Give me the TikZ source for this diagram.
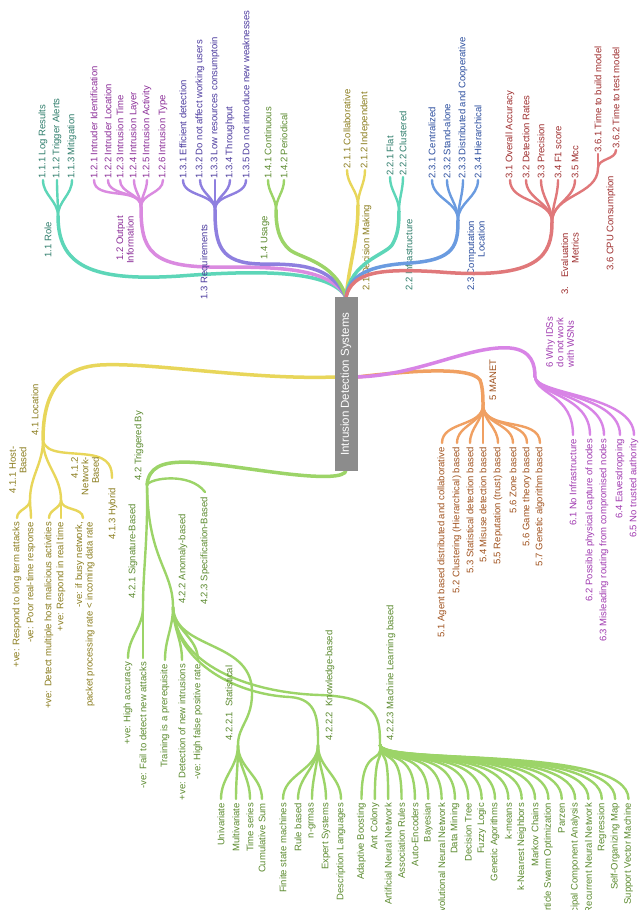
\documentclass[tikz,border=0pt]{standalone}
\usepackage{fontspec}
\setmainfont{Liberation Sans}
\usetikzlibrary{calc}
\begin{document}
\begin{tikzpicture}[x=1pt,y=-1pt,line cap=round,
  tl/.style={rotate=90,anchor=west,inner sep=1pt,font=\fontsize{9.5}{10.5}\selectfont},
  bl/.style={rotate=90,anchor=east,inner sep=1pt,font=\fontsize{9.5}{10.5}\selectfont},
  lab/.style={rotate=90,inner sep=1pt,font=\fontsize{9.5}{10.5}\selectfont},
  trunk/.style={line width=3.5pt},
  leaf/.style={line width=2.4pt}]
\definecolor{cteal}{HTML}{5DD6B8}\definecolor{tteal}{HTML}{2E7D6B}
\definecolor{cpink}{HTML}{DA8AE0}\definecolor{tpink}{HTML}{8B2D98}
\definecolor{cpurp}{HTML}{8E7FDF}\definecolor{tpurp}{HTML}{4B3A9E}
\definecolor{cgreen}{HTML}{9CD468}\definecolor{tgreen}{HTML}{5B8A2E}
\definecolor{cyell}{HTML}{E8D65A}\definecolor{tyell}{HTML}{8B7D1E}
\definecolor{cblue}{HTML}{6A9BE0}\definecolor{tblue}{HTML}{2A4D9E}
\definecolor{cred}{HTML}{E0787A}\definecolor{tred}{HTML}{9E2E2E}
\definecolor{corange}{HTML}{F0A062}\definecolor{torange}{HTML}{A0521E}
\definecolor{cviol}{HTML}{D884E6}\definecolor{tviol}{HTML}{A03AB0}
\useasboundingbox (0,0) rectangle (640,910);
\fill[white] (0,0) rectangle (640,910);
% root coordinates
\coordinate (rt) at (346,297);
\coordinate (rb) at (346,470);
\coordinate (rl) at (335,377);
\coordinate (rr) at (357,377);
% ---------- 1.1 Role
\coordinate (s11) at (58,216);
\draw[trunk,cteal] (rt) .. controls (330,270) and (260,270) .. (180,276) .. controls (90,282) and (58,265) .. (s11);
\foreach \x/\t [count=\i] in {43/1.1.1 Log Results,57/1.1.2 Trigger Alerts,72/1.1.3 Mitigation}{
  \coordinate (e11\i) at (\x,180);
  \draw[leaf,cteal] (s11) to[out=90,in=-90] (e11\i);
  \node[tl,tteal] (t11\i) at (e11\i) {\t};}
\node[lab,tteal] (l11) at (48,240) {1.1 Role};
% ---------- 1.2
\coordinate (s12) at (141,207);
\draw[trunk,cpink] (rt) .. controls (330,268) and (280,267) .. (220,267) .. controls (150,268) and (141,250) .. (s12);
\foreach \x/\t [count=\i] in {94/1.2.1 Intruder Identification,108/1.2.2 Intruder Location,120/1.2.3 Intrusion Time,134/1.2.4 Intrusion Layer,147/1.2.5 Intrusion Activity,163/1.2.6 Intrusion Type}{
  \coordinate (e12\i) at (\x,180);
  \draw[leaf,cpink] (s12) to[out=90,in=-90] (e12\i);
  \node[tl,tpink] (t12\i) at (e12\i) {\t};}
\node[lab,tpink,align=right] (l12) at (125,240) {1.2 Output\\Information};
% ---------- 1.3
\coordinate (s13) at (215,210);
\draw[trunk,cpurp] (rt) .. controls (330,265) and (300,264) .. (260,264) .. controls (220,263) and (215,245) .. (s13);
\foreach \x/\t [count=\i] in {183/1.3.1 Efficient detection,200/1.3.2 Do not affect working users,215/1.3.3 Low resources consumptoin,230/1.3.4 Throughput,246/1.3.5 Do not introduce new weaknesses}{
  \coordinate (e13\i) at (\x,180);
  \draw[leaf,cpurp] (s13) to[out=90,in=-90] (e13\i);
  \node[tl,tpurp] (t13\i) at (e13\i) {\t};}
\node[lab,tpurp] (l13) at (205,262) {1.3 Requirements};
% ---------- 1.4
\coordinate (s14) at (276,210);
\draw[trunk,cgreen] (rt) .. controls (335,262) and (300,258) .. (290,250) .. controls (278,240) and (276,225) .. (s14);
\foreach \x/\t [count=\i] in {268/1.4.1 Continuous,284/1.4.2 Periodical}{
  \coordinate (e14\i) at (\x,180);
  \draw[leaf,cgreen] (s14) to[out=90,in=-90] (e14\i);
  \node[tl,tgreen] (t14\i) at (e14\i) {\t};}
\node[lab,tgreen] (l14) at (265,238) {1.4 Usage};
% ---------- 2.1
\coordinate (s21) at (358,205);
\draw[trunk,cyell] (rt) .. controls (350,260) and (358,240) .. (s21);
\foreach \x/\t [count=\i] in {347/2.1.1 Collaborative,365/2.1.2 Independent}{
  \coordinate (e21\i) at (\x,170);
  \draw[leaf,cyell] (s21) to[out=90,in=-90] (e21\i);
  \node[tl,tyell] (t21\i) at (e21\i) {\t};}
\node[tl,tyell] (l21) at (367,292) {2.1 Decision Making};
% ---------- 2.2
\coordinate (s22) at (399,211);
\draw[trunk,cteal] (rt) .. controls (350,262) and (385,255) .. (392,245) .. controls (398,235) and (399,225) .. (s22);
\foreach \x/\t [count=\i] in {390/2.2.1 Flat,403/2.2.2 Clustered}{
  \coordinate (e22\i) at (\x,177);
  \draw[leaf,cteal] (s22) to[out=90,in=-90] (e22\i);
  \node[tl,tteal] (t22\i) at (e22\i) {\t};}
\node[tl,tteal] (l22) at (409,292) {2.2 Infrastructure};
% ---------- 2.3
\coordinate (s23) at (458,220);
\draw[trunk,cblue] (rt) .. controls (350,270) and (380,265) .. (410,263) .. controls (455,260) and (458,245) .. (s23);
\foreach \x/\t [count=\i] in {432/2.3.1 Centralized,447/2.3.2 Stand-alone,463/2.3.3 Distributed and Cooperative,478/2.3.4 Hierarchical}{
  \coordinate (e23\i) at (\x,180);
  \draw[leaf,cblue] (s23) to[out=90,in=-90] (e23\i);
  \node[tl,tblue] (t23\i) at (e23\i) {\t};}
\node[lab,tblue,align=right] (l23) at (476,256) {2.3 Computation\\Location};
% ---------- 3
\coordinate (s3) at (552,222);
\draw[trunk,cred] (rt) .. controls (352,272) and (380,268) .. (440,272) .. controls (540,280) and (552,255) .. (s3);
\foreach \x/\t [count=\i] in {510/3.1 Overall Accuracy,526/3.2 Detection Rates,541/3.3 Precision,558/3.4 F1 score,575/3.5 Mcc}{
  \coordinate (e3\i) at (\x,180);
  \draw[leaf,cred] (s3) to[out=90,in=-90] (e3\i);
  \node[tl,tred] (t3\i) at (e3\i) {\t};}
\coordinate (s36) at (598,168);
\draw[leaf,cred] (s3) to[out=90,in=-90] (s36);
\coordinate (e361) at (598,154);
\coordinate (e362) at (616,150);
\draw[leaf,cred] (s36) -- (e361);
\draw[leaf,cred] (s36) to[out=90,in=-90] (e362);
\node[tl,tred] (t361) at (e361) {3.6.1 Time to build model};
\node[tl,tred] (t362) at (e362) {3.6.2 Time to test model};
\node[lab,tred,align=right] (l3) at (570,264) {3.\quad Evaluation\\Metrics};
\node[tl,tred] (l36) at (611,272) {3.6 CPU Consumption};
% ---------- 4.1
\coordinate (s41) at (43,440);
\draw[trunk,cyell] (rl) .. controls (250,380) and (150,362) .. (100,365) .. controls (55,368) and (43,400) .. (s41);
\coordinate (s411) at (30,500);
\coordinate (s412) at (61,500);
\coordinate (e413) at (112,478);
\draw[leaf,cyell] (s41) to[out=-90,in=90] (s411);
\draw[leaf,cyell] (s41) to[out=-90,in=90] (s412);
\draw[leaf,cyell] (s41) .. controls (45,455) and (70,452) .. (90,455) .. controls (110,458) and (112,468) .. (e413);
\foreach \x/\t [count=\i] in {17/+ve: Respond to long term attacks,31/-ve: Poor real-time response}{
  \coordinate (e411\i) at (\x,518);
  \draw[leaf,cyell] (s411) to[out=-90,in=90] (e411\i);
  \node[bl,tyell] (t411\i) at ($(e411\i)+(0,3)$) {\t};}
\foreach \x/\t [count=\i] in {49/+ve: Detect multiple host malicious activities,61/+ve: Respond in real time}{
  \coordinate (e412\i) at (\x,518);
  \draw[leaf,cyell] (s412) to[out=-90,in=90] (e412\i);
  \node[bl,tyell] (t412\i) at ($(e412\i)+(0,3)$) {\t};}
\coordinate (e4123) at (83,518);
\draw[leaf,cyell] (s412) to[out=-90,in=90] (e4123);
\node[bl,tyell,align=right] (t4123) at (85,521) {-ve: if busy network,\\packet processing rate < incoming data rate};
\node[tl,tyell] (l41) at (35,437) {4.1 Location};
\node[lab,tyell,align=right] (l411) at (18,470) {4.1.1 Host-\\Based};
\node[lab,tyell,align=right] (l412) at (85,476) {4.1.2\\Network-\\Based};
\node[bl,tyell] (l413) at (113,487) {4.1.3 Hybrid};
% ---------- 4.2
\coordinate (s42) at (147,485);
\draw[trunk,cgreen] (rb) .. controls (346,478) and (320,478) .. (280,473) .. controls (200,463) and (150,450) .. (s42);
\coordinate (s421) at (143,607);
\coordinate (s422) at (173,607);
\coordinate (e423) at (205,492);
\draw[leaf,cgreen] (s42) .. controls (148,540) and (143,570) .. (s421);
\draw[leaf,cgreen] (s42) .. controls (148,560) and (173,570) .. (s422);
\draw[leaf,cgreen] (s42) .. controls (150,478) and (190,472) .. (e423);
\node[tl,tgreen] (l42) at (139,482) {4.2 Triggered By};
\node[bl,tgreen] (l421) at (133,503) {4.2.1 Signature-Based};
\node[bl,tgreen] (l422) at (183,513) {4.2.2 Anomaly-based};
\node[bl,tgreen] (l423) at (205,496) {4.2.3 Specification-Based};
\foreach \x/\t [count=\i] in {128/+ve: High accuracy,143/-ve: Fail to detect new attacks}{
  \coordinate (e421\i) at (\x,658);
  \draw[leaf,cgreen] (s421) to[out=-90,in=90] (e421\i);
  \node[bl,tgreen] (t421\i) at ($(e421\i)+(0,3)$) {\t};}
\foreach \x/\t [count=\i] in {165/Training is a prerequisite,182/+ve: Detection of new intrusions,198/-ve: High false positive rate}{
  \coordinate (e422\i) at (\x,660);
  \draw[leaf,cgreen] (s422) to[out=-90,in=90] (e422\i);
  \node[bl,tgreen] (t422\i) at ($(e422\i)+(0,3)$) {\t};}
\coordinate (s4221) at (238,745);
\coordinate (s4222) at (318,745);
\coordinate (s4223) at (380,745);
\draw[leaf,cgreen] (s422) .. controls (175,650) and (250,640) .. (252,690) .. controls (253,720) and (238,725) .. (s4221);
\draw[leaf,cgreen] (s422) .. controls (175,665) and (240,695) .. (290,697) .. controls (318,699) and (318,720) .. (s4222);
\draw[leaf,cgreen] (s422) .. controls (175,665) and (250,693) .. (320,695) .. controls (380,697) and (380,720) .. (s4223);
\node[tl,tgreen] (l4221) at (229,742) {4.2.2.1\ \ Statistical};
\node[tl,tgreen] (l4222) at (330,742) {4.2.2.2\ \ Knowledge-based};
\node[tl,tgreen] (l4223) at (391,742) {4.2.2.3 Machine Learning based};
\foreach \x/\t [count=\i] in {221/Univariate,236/Multivariate,250/Time series,262/Cumulative Sum}{
  \coordinate (e4221\i) at (\x,799);
  \draw[leaf,cgreen] (s4221) to[out=-90,in=90] (e4221\i);
  \node[bl,tgreen] (t4221\i) at ($(e4221\i)+(0,3)$) {\t};}
\foreach \x/\t [count=\i] in {283/Finite state machines,298/Rule based,312/n-grmas,326/Expert Systems,341/Description Languages}{
  \coordinate (e4222\i) at (\x,799);
  \draw[leaf,cgreen] (s4222) to[out=-90,in=90] (e4222\i);
  \node[bl,tgreen] (t4222\i) at ($(e4222\i)+(0,3)$) {\t};}
\foreach \t [count=\i from 0] in {Adaptive Boosting,Ant Colony,Artificial Neural Network,Association Rules,Auto-Encoders,Bayesian,Convolutional Neural Network,Data Mining,Decision Tree,Fuzzy Logic,Genetic Agorithms,k-means,k-Nearest Neighbors,Markov Chains,Particle Swarm Optimization,Parzen,Principal Component Analysis,Recurrent Neural Network,Regression,Self-Organizing Map,Support Vector Machine}{
  \pgfmathsetmacro{\lx}{361.5+13.35*\i}
  \coordinate (e4223\i) at (\lx,799);
  \draw[leaf,cgreen] (s4223) .. controls (383,765) and (\lx,745) .. (e4223\i);
  \node[bl,tgreen] (t4223\i) at ($(e4223\i)+(0,3)$) {\t};}
% ---------- 5 MANET
\coordinate (s5) at (483,405);
\draw[trunk,corange] (rr) .. controls (400,372) and (470,365) .. (480,380) .. controls (483,388) and (483,398) .. (s5);
\foreach \x/\t [count=\i] in {442/5.1 Agent based distributed and collaborative,457/5.2 Clustering (Hierarchical) based,470/5.3 Statistical detection based,483/5.4 Misuse detection based,498/5.5 Reputation (trust) based,513/5.6 Zone based,527/5.6 Game theory based,540/5.7 Genetic algorithm based}{
  \coordinate (e5\i) at (\x,443);
  \draw[leaf,corange] (s5) to[out=-90,in=90] (e5\i);
  \node[bl,torange] (t5\i) at ($(e5\i)+(0,3)$) {\t};}
\node[tl,torange] (l5) at (493,402) {5 MANET};
% ---------- 6
\coordinate (s6) at (535,377);
\draw[trunk,cviol] (rr) .. controls (420,375) and (470,345) .. (510,348) .. controls (532,350) and (535,365) .. (s6);
\foreach \x/\t [count=\i] in {573/6.1 No Infrastructure,590/6.2 Possible physical capture of nodes,604/6.3 Misleading routing from compromised nodes,620/6.4 Eavesdropping,634/6.5 No trusted authority}{
  \coordinate (e6\i) at (\x,435);
  \draw[leaf,cviol] (s6) .. controls (537,395) and (\x,395) .. (e6\i);
  \node[bl,tviol] (t6\i) at ($(e6\i)+(0,3)$) {\t};}
\node[lab,tviol,align=left] (l6) at (560,342) {6 Why IDSs\\do not work\\with WSNs};
% ---------- root
\node[rotate=90,fill=black!45,text=white,minimum width=174pt,minimum height=23pt,inner sep=1pt,font=\fontsize{11.5}{13}\selectfont] (root) at (346,384) {Intrusion Detection Systems};
\end{tikzpicture}
\end{document}
